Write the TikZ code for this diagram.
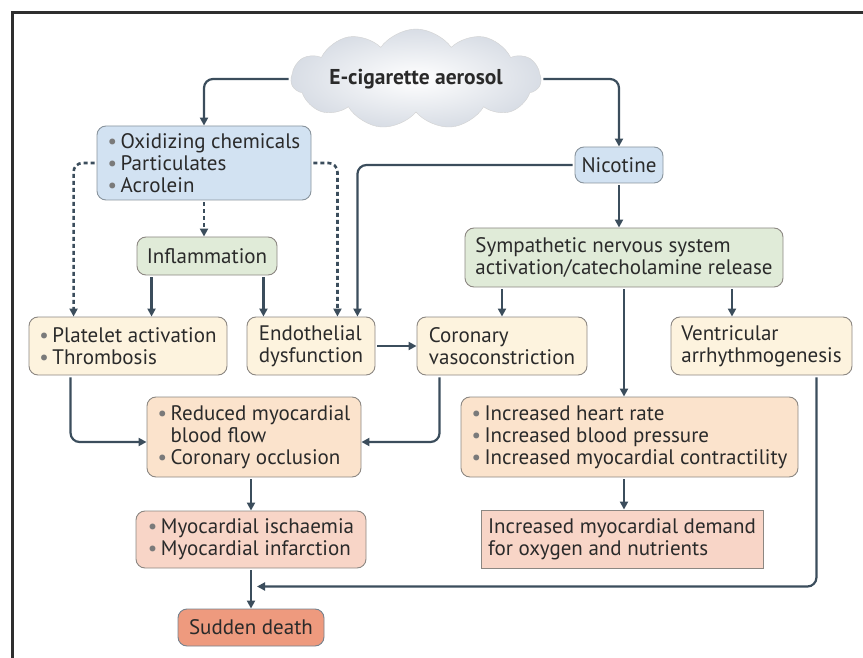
\documentclass[tikz,border=0pt]{standalone}
\usepackage{fontspec}
\setmainfont{PT Sans}
\usetikzlibrary{shapes.symbols, arrows.meta, calc}
\definecolor{cline}{HTML}{3B4D5C}
\definecolor{cframe}{HTML}{2E2E2E}
\definecolor{ctext}{HTML}{2A2A2A}
\definecolor{cbull}{HTML}{7A7A7A}
\definecolor{cedge}{HTML}{8C8782}
\definecolor{cblue}{HTML}{D2E2F2}
\definecolor{cgreen}{HTML}{E0EBD8}
\definecolor{ccream}{HTML}{FDF3DE}
\definecolor{cpeach}{HTML}{FBE3CC}
\definecolor{cpink}{HTML}{F8D5C7}
\definecolor{csalmon}{HTML}{EE9A7E}
\definecolor{ccloud}{HTML}{D8DDE5}
\newcommand{\bul}{\makebox[13pt][l]{\textcolor{cbull}{\textbullet}}}
\newcommand{\nobul}{\hspace*{13pt}}

\begin{document}
\begin{tikzpicture}[x=1pt, y=-1pt,
    box/.style={draw=cedge, line width=0.9pt, rounded corners=9pt, inner xsep=6pt, inner ysep=4pt, align=left, text=ctext, font=\fontsize{21}{22}\selectfont},
    bluebox/.style={box, fill=cblue, draw=cline!60},
    greenbox/.style={box, fill=cgreen},
    creambox/.style={box, fill=ccream},
    peachbox/.style={box, fill=cpeach},
    pinkbox/.style={box, fill=cpink},
    deathbox/.style={box, fill=csalmon, draw=cline!70},
    cloudnode/.style={cloud, cloud puffs=11, cloud puff arc=110, aspect=2.1, cloud ignores aspect, minimum width=210pt, minimum height=100pt, draw=gray!35, inner color=white, outer color=ccloud, font=\fontsize{21.5}{22}\selectfont\bfseries, text=ctext},
    arr/.style={draw=cline, line width=2.2pt, rounded corners=9pt, shorten <=2pt, -{Triangle[length=8pt,width=8pt]}},
    dotarr/.style={arr, line width=2.6pt, dash pattern=on 4pt off 3pt}
]
\useasboundingbox (0,0) rectangle (863,658);
\draw[cframe, line width=3pt] (12,658) -- (12,13) -- (863,13);

\node[cloudnode] (aero) at (416,79) {E-cigarette aerosol};
\node[bluebox, minimum width=214pt, minimum height=74pt] (ox) at (204,163) {\bul Oxidizing chemicals\\\bul Particulates\\\bul Acrolein};
\node[bluebox, minimum width=88pt, minimum height=36pt, align=center] (nic) at (619,165) {Nicotine};
\node[greenbox, minimum width=140pt, minimum height=38pt, align=center] (inf) at (207,256) {Inflammation};
\node[greenbox, minimum width=318pt, minimum height=59pt] (symp) at (624,257.5) {Sympathetic nervous system\\activation/catecholamine release};
\node[creambox, minimum width=198pt, minimum height=58pt] (plat) at (128,346) {\bul Platelet activation\\\bul Thrombosis};
\node[creambox, minimum width=128pt, minimum height=58pt] (endo) at (311,346) {Endothelial\\dysfunction};
\node[creambox, minimum width=170pt, minimum height=58pt] (cor) at (502,346) {Coronary\\vasoconstriction};
\node[creambox, minimum width=181pt, minimum height=58pt] (vent) at (761.5,346) {Ventricular\\arrhythmogenesis};
\node[peachbox, minimum width=214pt, minimum height=80pt] (red) at (254,437) {\bul Reduced myocardial\\\nobul blood flow\\\bul Coronary occlusion};
\node[peachbox, minimum width=337pt, minimum height=80pt] (inc) at (629.5,437) {\bul Increased heart rate\\\bul Increased blood pressure\\\bul Increased myocardial contractility};
\node[pinkbox, minimum width=230pt, minimum height=57pt] (myo) at (251,539.5) {\bul Myocardial ischaemia\\\bul Myocardial infarction};
\node[pinkbox, sharp corners, minimum width=282pt, minimum height=58pt] (dem) at (622,539) {Increased myocardial demand\\for oxygen and nutrients};
\node[deathbox, minimum width=146pt, minimum height=37pt, align=center] (sd) at (251,627.5) {Sudden death};

\coordinate (infL) at ([xshift=15pt]inf.south west);
\coordinate (infR) at ([xshift=-14pt]inf.south east);
\coordinate (endoA) at ([xshift=-18pt]endo.north east);
\coordinate (endoB) at ([xshift=-38pt]endo.north east);
\coordinate (platA) at ([xshift=45pt]plat.north west);
\coordinate (platB) at ([xshift=42pt]plat.south west);
\coordinate (corB) at ([xshift=23pt]cor.south west);
\coordinate (ventB) at ([xshift=-36pt]vent.south east);
\coordinate (sympV) at ([xshift=108pt]symp.south);
\coordinate (redL) at ([yshift=-5pt]red.west);
\coordinate (redR) at ([yshift=-5pt]red.east);
\coordinate (jn) at ($(myo.south)!0.45!(sd.north)+(6,0)$);

\draw[arr] (aero.west) -| (ox.north);
\draw[arr] (aero.east) -| (nic.north);
\draw[arr] (nic.south) -- (nic.south |- symp.north);
\draw[arr] (nic.west) -| (endoA);
\draw[dotarr] (ox.south) -- (ox.south |- inf.north);
\draw[dotarr] (ox.west) -| (platA);
\draw[dotarr] (ox.east) -| (endoB);
\draw[arr] (infL) -- (infL |- plat.north);
\draw[arr] (infR) -- (infR |- endo.north);
\draw[arr] (endo.east) -- (cor.west);
\draw[arr] (symp.south -| cor.north) -- (cor.north);
\draw[arr] (symp.south) -- (symp.south |- inc.north);
\draw[arr] (sympV) -- (sympV |- vent.north);
\draw[arr] (platB) |- (redL);
\draw[arr] (corB) |- (redR);
\draw[arr] (red.south -| myo.north) -- (myo.north);
\draw[arr] (myo.south) -- (sd.north);
\draw[arr] (ventB) |- (jn);
\draw[arr] (inc.south -| symp.south) -- (dem.north -| symp.south);
\end{tikzpicture}
\end{document}
